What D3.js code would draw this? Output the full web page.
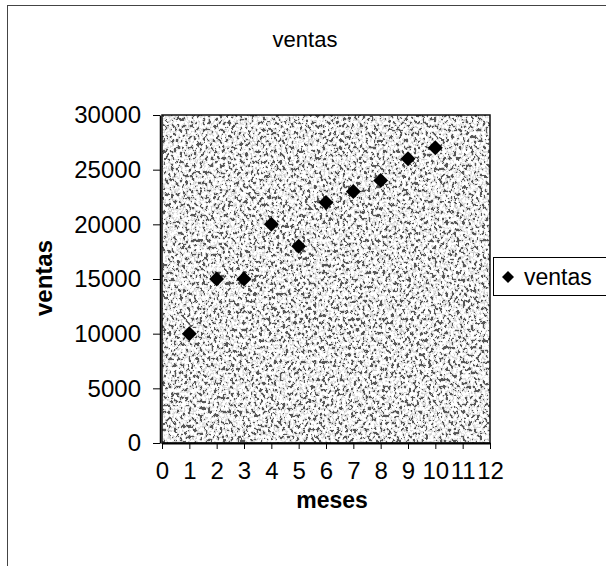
<!DOCTYPE html>
<html>
<head>
<meta charset="utf-8">
<script src="https://cdn.jsdelivr.net/npm/d3@7"></script>
<style>
  body { margin: 0; background: #fff; }
  text { font-family: "Liberation Sans", Arial, sans-serif; fill: #000; }
</style>
</head>
<body>
<script>
var meses = [1, 2, 3, 4, 5, 6, 7, 8, 9, 10];
var ventas = [10000, 15000, 15000, 20000, 18000, 22000, 23000, 24000, 26000, 27000];
var xTicks = [0, 1, 2, 3, 4, 5, 6, 7, 8, 9, 10, 11, 12];
var yTicks = [0, 5000, 10000, 15000, 20000, 25000, 30000];

var svg = d3.select('body').append('svg')
    .attr('width', 606)
    .attr('height', 566);

// noisy grey texture of the plot area
var defs = svg.append('defs');
var f = defs.append('filter').attr('id', 'noise')
    .attr('x', 0).attr('y', 0).attr('width', 1).attr('height', 1);
f.append('feTurbulence')
    .attr('type', 'fractalNoise')
    .attr('baseFrequency', '0.35 0.28')
    .attr('numOctaves', 4)
    .attr('seed', 7)
    .attr('result', 't');
f.append('feColorMatrix')
    .attr('in', 't')
    .attr('type', 'matrix')
    .attr('values', '3 0 0 0 -1.0  3 0 0 0 -1.0  3 0 0 0 -1.0  0 0 0 0 1')
    .attr('result', 'c');
var ct = f.append('feComponentTransfer').attr('in', 'c').attr('result', 'q');
['feFuncR', 'feFuncG', 'feFuncB'].forEach(function (n) {
    ct.append(n).attr('type', 'discrete').attr('tableValues', '0.1 0.6 0.72 0.82 0.95 1 1');
});
f.append('feComposite').attr('in', 'q').attr('in2', 'SourceGraphic').attr('operator', 'in');

// outer chart frame
svg.append('rect')
    .attr('x', 7.5).attr('y', 5.5)
    .attr('width', 610).attr('height', 580)
    .attr('fill', 'none')
    .attr('stroke', '#444')
    .attr('stroke-width', 1);

var pLeft = 162, pRight = 490, pTop = 115, pBottom = 443;

var x = d3.scaleLinear().domain([0, 12]).range([pLeft, pRight]);
var y = d3.scaleLinear().domain([0, 30000]).range([pBottom, pTop]);

svg.append('rect')
    .attr('x', pLeft).attr('y', pTop)
    .attr('width', pRight - pLeft).attr('height', pBottom - pTop)
    .attr('fill', '#999')
    .attr('filter', 'url(#noise)');

svg.append('rect')
    .attr('x', pLeft).attr('y', pTop)
    .attr('width', pRight - pLeft).attr('height', pBottom - pTop)
    .attr('fill', 'none')
    .attr('stroke', '#111')
    .attr('stroke-width', 1.5);

var yAxis = svg.append('g')
    .attr('transform', 'translate(' + (pLeft - 2) + ',0)')
    .call(d3.axisLeft(y).tickValues(yTicks).tickFormat(d3.format('d'))
        .tickSize(7).tickPadding(12).tickSizeOuter(0));
yAxis.select('.domain').attr('stroke', '#000').attr('stroke-width', 1.5);
yAxis.selectAll('.tick line').attr('stroke', '#000');
yAxis.selectAll('text')
    .style('font-size', '24px')
    .attr('font-family', null);

var xAxis = svg.append('g')
    .attr('transform', 'translate(0,' + pBottom + ')')
    .call(d3.axisBottom(x).tickValues(xTicks).tickFormat(d3.format('d'))
        .tickSize(6).tickPadding(13).tickSizeOuter(0));
xAxis.select('.domain').attr('stroke', '#000').attr('stroke-width', 2);
xAxis.selectAll('.tick line').attr('stroke', '#000');
xAxis.selectAll('text')
    .style('font-size', '24px')
    .attr('font-family', null);

// points
svg.append('g').selectAll('path')
    .data(meses)
    .enter().append('path')
    .attr('d', d3.symbol().type(d3.symbolSquare).size(112))
    .attr('transform', function (d, i) {
        return 'translate(' + x(d) + ',' + y(ventas[i]) + ') rotate(45)';
    })
    .attr('fill', '#000');

// titles
svg.append('text')
    .attr('x', 305).attr('y', 47)
    .attr('text-anchor', 'middle')
    .style('font-size', '22px')
    .text('ventas');

svg.append('text')
    .attr('x', 332).attr('y', 508)
    .attr('text-anchor', 'middle')
    .style('font-size', '23px')
    .style('font-weight', 'bold')
    .text('meses');

svg.append('text')
    .attr('transform', 'translate(52,' + 278 + ') rotate(-90)')
    .attr('text-anchor', 'middle')
    .style('font-size', '24px')
    .style('font-weight', 'bold')
    .text('ventas');

// legend
var lg = svg.append('g');
lg.append('rect')
    .attr('x', 493.5).attr('y', 257.5)
    .attr('width', 120).attr('height', 38)
    .attr('fill', '#fff')
    .attr('stroke', '#000')
    .attr('stroke-width', 1);
lg.append('path')
    .attr('d', d3.symbol().type(d3.symbolSquare).size(72))
    .attr('transform', 'translate(508,277) rotate(45)')
    .attr('fill', '#000');
lg.append('text')
    .attr('x', 524).attr('y', 285)
    .style('font-size', '23px')
    .text('ventas');
</script>
</body>
</html>
